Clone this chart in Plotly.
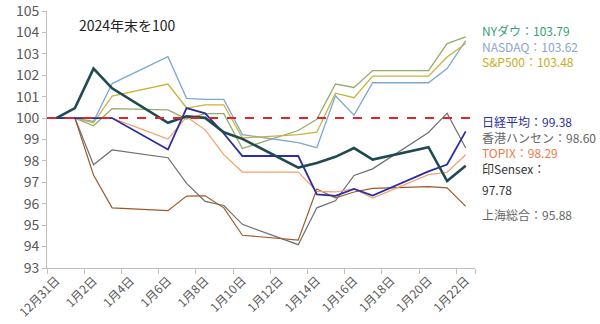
import plotly.graph_objects as go
from datetime import datetime, timedelta

dates = ["2024-12-31", "2025-01-01", "2025-01-02", "2025-01-03", "2025-01-06",
         "2025-01-07", "2025-01-08", "2025-01-09", "2025-01-10", "2025-01-13",
         "2025-01-14", "2025-01-15", "2025-01-16", "2025-01-17", "2025-01-20",
         "2025-01-21", "2025-01-22"]

dow = [100, 100, 99.64, 100.44, 100.38, 99.96, 100.21, 100.21, 98.58, 99.42,
       99.94, 101.59, 101.43, 102.22, 102.22, 103.48, 103.79]
nasdaq = [100, 100, 99.84, 101.61, 102.87, 100.92, 100.87, 100.87, 99.23, 98.85,
          98.62, 101.04, 100.14, 101.65, 101.65, 102.31, 103.62]
sp500 = [100, 100, 99.78, 101.03, 101.59, 100.47, 100.62, 100.62, 99.07, 99.23,
         99.34, 101.16, 100.95, 101.96, 101.96, 102.85, 103.48]
nikkei = [100, 100, 100, 100, 98.53, 100.47, 100.22, 99.28, 98.23, 98.23,
          96.44, 96.37, 96.69, 96.38, 97.51, 97.83, 99.38]
hangseng = [100, 100, 97.82, 98.51, 98.15, 96.95, 96.11, 95.92, 95.04, 94.09,
            95.81, 96.14, 97.32, 97.63, 99.33, 100.23, 98.60]
topix = [100, 100, 100, 100, 99.02, 100.06, 99.45, 98.29, 97.48, 97.48,
         96.58, 96.55, 96.70, 96.27, 97.36, 97.47, 98.29]
sensex = [100, 100.47, 102.31, 101.39, 99.78, 100.08, 100.01, 99.34, 99.03, 97.69,
          97.90, 98.19, 98.60, 98.06, 98.64, 97.06, 97.78]
shanghai = [100, 100, 97.34, 95.81, 95.68, 96.36, 96.37, 95.81, 94.53, 94.30,
            96.69, 96.28, 96.55, 96.72, 96.80, 96.74, 95.88]

BASE = 100
title_text = "2024年末を100"
y_ticks = [93, 94, 95, 96, 97, 98, 99, 100, 101, 102, 103, 104, 105]

# name, values, line colour, width, label colour
series = {
    "NYダウ": (dow, "#93ad6c", 1.3, "#35a070"),
    "NASDAQ": (nasdaq, "#7fa8cf", 1.3, "#8da3cb"),
    "S&P500": (sp500, "#c9b23c", 1.3, "#c8ac22"),
    "香港ハンセン": (hangseng, "#6e6e6e", 1.2, "#666666"),
    "上海総合": (shanghai, "#9c5a2c", 1.2, "#666666"),
    "TOPIX": (topix, "#f2a06c", 1.2, "#f07a48"),
    "日経平均": (nikkei, "#2d2da3", 1.8, "#2d2d9d"),
    "印Sensex": (sensex, "#1f4a4f", 2.6, "#333333"),
}

dt = [datetime.strptime(d, "%Y-%m-%d") for d in dates]
xs = [d + timedelta(hours=12) for d in dt]  # plotted at the middle of each day

start = dt[0]
end = datetime(2025, 1, 23)
major, minor = [], []
d = start
while d < end:
    minor.append(d)
    major.append(d + timedelta(hours=12))
    d += timedelta(days=2)
minor.append(end)
ticktext = [f"{m.month}月{m.day}日" for m in major]

fig = go.Figure()
for name, (vals, col, w, lcol) in series.items():
    fig.add_trace(go.Scatter(x=xs, y=vals, mode="lines", name=name,
                             line=dict(color=col, width=w), showlegend=False))

fig.add_shape(type="line", xref="x domain", yref="y", x0=0, x1=1, y0=BASE, y1=BASE,
              line=dict(color="#e0242a", width=2, dash="dash"))

font = "Noto Sans CJK JP"


def lab(name, with_value=True):
    vals, col, w, lcol = series[name]
    txt = f"{name}：{vals[-1]:.2f}" if with_value else f"{name}："
    return f"<span style='color:{lcol}'>{txt}</span>"


us_block = "<br>".join([lab("NYダウ"), lab("NASDAQ"), lab("S&P500")])
asia_block = "<br>".join([lab("日経平均"), lab("香港ハンセン"), lab("TOPIX"),
                          lab("印Sensex", False)])

fig.add_annotation(x=1.012, xref="paper", y=103.38, yref="y", xanchor="left",
                   yanchor="middle", align="left", text=us_block, showarrow=False,
                   font=dict(family=font, size=12, color="#333333"))
fig.add_annotation(x=1.012, xref="paper", y=98.76, yref="y", xanchor="left",
                   yanchor="middle", align="left", text=asia_block, showarrow=False,
                   font=dict(family=font, size=12, color="#333333"))
fig.add_annotation(x=1.012, xref="paper", y=96.66, yref="y", xanchor="left",
                   yanchor="middle", text=f"{sensex[-1]:.2f}", showarrow=False,
                   font=dict(family=font, size=12, color="#333333"))
fig.add_annotation(x=1.012, xref="paper", y=95.52, yref="y", xanchor="left",
                   yanchor="middle", text=lab("上海総合"), showarrow=False,
                   font=dict(family=font, size=12, color="#666666"))

fig.add_annotation(x=0.07, xref="paper", y=0.945, yref="paper", xanchor="left",
                   yanchor="middle", text=title_text, showarrow=False,
                   font=dict(family=font, size=14, color="#222222"))

fig.update_layout(
    width=600, height=324,
    margin=dict(l=47, r=125, t=11, b=56),
    paper_bgcolor="white", plot_bgcolor="white",
    font=dict(family=font, color="#595959"),
    xaxis=dict(type="date", range=[start, end], tickmode="array", tickvals=major,
               ticktext=ticktext, tickangle=-45, ticks="", showgrid=False,
               automargin=False,
               showline=True, linecolor="#bfbfbf", linewidth=1,
               tickfont=dict(size=12, color="#595959"), ticklabeloverflow="allow",
               minor=dict(tickvals=minor, ticks="outside", ticklen=5,
                          tickcolor="#bfbfbf", showgrid=False)),
    yaxis=dict(range=[93, 105], tickmode="array", tickvals=y_ticks,
               showgrid=False, showline=True, ticklabeloverflow="allow",
               automargin=False,
               linecolor="#bfbfbf", linewidth=1, ticks="outside", ticklen=4,
               tickcolor="#bfbfbf", zeroline=False,
               tickfont=dict(size=14, color="#595959")),
)

fig.write_html("out.html")
